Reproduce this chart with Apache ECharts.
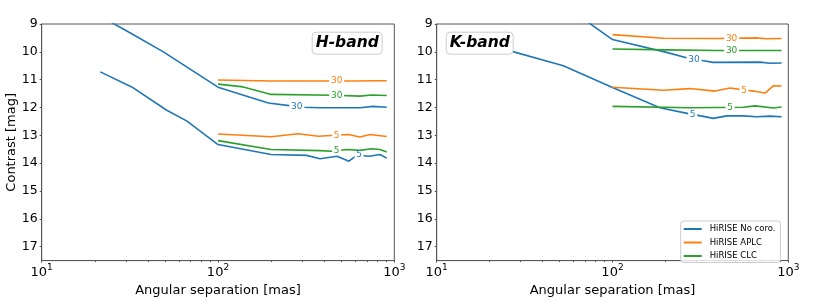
<!DOCTYPE html>
<html>
<head>
<meta charset="utf-8">
<script src="https://cdn.jsdelivr.net/npm/echarts@6/dist/echarts.min.js"></script>
<style>
html,body{margin:0;padding:0;background:#fff;}
#chart{width:830px;height:302px;}
</style>
</head>
<body>
<div id="chart"></div>
<script>
// ---------- data ----------
const seriesNames = ['HiRISE No coro.', 'HiRISE APLC', 'HiRISE CLC'];
const panelTitles = ['H-band', 'K-band'];
const yTicks = [9, 10, 11, 12, 13, 14, 15, 16, 17];
const xTickExps = [1, 2, 3];
const xMinorTicks = [20, 30, 40, 50, 60, 70, 80, 90, 200, 300, 400, 500, 600, 700, 800, 900];

// H-band
const hNoCoro30X = [21.5, 32.4, 49, 100, 193, 267, 305, 379, 639, 757, 906];
const hNoCoro30Y = [8.72, 9.35, 10.0, 11.27, 11.84, 11.95, 11.99, 12.01, 12.01, 11.96, 11.99];
const hNoCoro5X  = [21.5, 32.4, 51.2, 66.4, 100, 200, 318, 379, 473, 553, 612, 722, 829, 906];
const hNoCoro5Y  = [10.72, 11.26, 12.10, 12.48, 13.33, 13.69, 13.72, 13.84, 13.75, 13.93, 13.72, 13.75, 13.69, 13.82];
const hAPLC30X = [100, 200, 400, 600, 800, 906];
const hAPLC30Y = [11.01, 11.05, 11.05, 11.05, 11.04, 11.04];
const hCLC30X  = [100, 139, 200, 451, 639, 744, 906];
const hCLC30Y  = [11.16, 11.26, 11.53, 11.56, 11.59, 11.55, 11.57];
const hAPLC5X  = [100, 200, 285, 371, 548, 639, 727, 906];
const hAPLC5Y  = [12.95, 13.05, 12.94, 13.03, 12.97, 13.06, 12.97, 13.04];
const hCLC5X   = [100, 200, 379, 442, 537, 639, 744, 829, 906];
const hCLC5Y   = [13.19, 13.51, 13.55, 13.57, 13.51, 13.54, 13.48, 13.51, 13.60];

// K-band
const kNoCoro30X = [27.5, 55, 100, 203, 270, 323, 374, 690, 787, 916];
const kNoCoro30Y = [7.2, 8.4, 9.56, 10.02, 10.23, 10.31, 10.38, 10.37, 10.41, 10.40];
const kNoCoro5X  = [25, 52.5, 100, 186, 270, 323, 374, 447, 554, 661, 787, 916];
const kNoCoro5Y  = [9.93, 10.50, 11.28, 12.01, 12.22, 12.31, 12.39, 12.30, 12.30, 12.33, 12.31, 12.33];
const kAPLC30X = [100, 195, 391, 661, 753, 916];
const kAPLC30Y = [9.38, 9.51, 9.52, 9.50, 9.53, 9.52];
const kCLC30X  = [100, 203, 391, 916];
const kCLC30Y  = [9.90, 9.93, 9.95, 9.95];
const kAPLC5X  = [100, 195, 276, 383, 466, 632, 737, 822, 916];
const kAPLC5Y  = [11.27, 11.38, 11.32, 11.41, 11.30, 11.41, 11.48, 11.22, 11.23];
const kCLC5X   = [100, 276, 391, 554, 647, 822, 916];
const kCLC5Y   = [11.96, 12.01, 12.00, 11.99, 11.94, 12.02, 11.98];

// contour-style inline labels: [x, y, text]
const hLabels = {
  noCoro30: [280, 11.96, '30'], noCoro5: [631, 13.70, '5'],
  aplc30: [471, 11.05, '30'], aplc5: [471, 13.00, '5'],
  clc30: [471, 11.57, '30'], clc5: [471, 13.55, '5']
};
const kLabels = {
  noCoro30: [291, 10.27, '30'], noCoro5: [286, 12.24, '5'],
  aplc30: [476, 9.52, '30'], aplc5: [560, 11.38, '5'],
  clc30: [476, 9.95, '30'], clc5: [466, 12.00, '5']
};

// ---------- chart ----------
const colors = ['#1f77b4', '#ff7f0e', '#2ca02c'];
const FONT = 'DejaVu Sans';
const AXIS_COLOR = '#555';

function pairs(xs, ys) { return xs.map((x, i) => [x, ys[i]]); }

function mkSeries(nameIdx, xs, ys, lab, xi, yi) {
  const c = colors[nameIdx];
  const txt = lab[2];
  return {
    type: 'line', name: seriesNames[nameIdx],
    xAxisIndex: xi, yAxisIndex: yi,
    data: pairs(xs, ys),
    showSymbol: false, symbol: 'none',
    lineStyle: { color: c, width: 1.6 },
    itemStyle: { color: c },
    clip: true, animation: false,
    markPoint: {
      z: 10, silent: true, animation: false,
      symbol: 'rect',
      symbolSize: [txt.length === 2 ? 15 : 9, 6],
      itemStyle: { color: '#fff' },
      label: { show: true, position: 'inside', formatter: txt, color: c,
               fontSize: 9, fontFamily: FONT },
      data: [{ coord: [lab[0], lab[1]] }]
    }
  };
}

const grids = [
  { left: 41.7, top: 24, width: 352.6, height: 243.7 },
  { left: 436.7, top: 24, width: 351.6, height: 243.7 }
].map(g => Object.assign(g, { show: true, borderColor: AXIS_COLOR, borderWidth: 1, containLabel: false }));

function mainX(gi) {
  return {
    type: 'log', logBase: 10, gridIndex: gi, min: 10, max: 1000, position: 'bottom',
    axisLine: { show: true, lineStyle: { color: AXIS_COLOR, width: 1 } },
    axisTick: { show: true, length: 2, lineStyle: { color: AXIS_COLOR } },
    splitLine: { show: false },
    minorTick: { show: false },
    axisLabel: {
      margin: 2.5, color: '#000', fontFamily: FONT,
      formatter: v => {
        const e = xTickExps.find(k => Math.abs(Math.pow(10, k) - v) < 1e-6);
        return '{b|10}{s|' + e + '}';
      },
      rich: {
        b: { fontSize: 13, fontFamily: FONT, color: '#000', verticalAlign: 'bottom', lineHeight: 16 },
        s: { fontSize: 9, fontFamily: FONT, color: '#000', verticalAlign: 'top', lineHeight: 11 }
      }
    },
    name: 'Angular separation [mas]', nameLocation: 'middle', nameGap: 21,
    nameTextStyle: { fontSize: 13, fontFamily: FONT, color: '#000' }
  };
}
function minorX(gi) {
  return {
    type: 'value', gridIndex: gi, min: 1, max: 3, position: 'bottom',
    axisLine: { show: false }, axisLabel: { show: false }, splitLine: { show: false },
    axisTick: { show: true, length: 1.5, lineStyle: { color: AXIS_COLOR },
                customValues: xMinorTicks.map(v => Math.log10(v)) }
  };
}
function mainY(gi, withName) {
  const o = {
    type: 'value', gridIndex: gi, inverse: true, min: 9, max: 17.5, interval: 1,
    axisLine: { show: true, lineStyle: { color: AXIS_COLOR, width: 1 } },
    axisTick: { show: true, length: 2, lineStyle: { color: AXIS_COLOR } },
    splitLine: { show: false },
    axisLabel: { margin: 4, fontSize: 12.5, fontFamily: FONT, color: '#000', showMaxLabel: false,
                 formatter: v => (yTicks.indexOf(v) >= 0 ? String(v) : '') }
  };
  if (withName) {
    Object.assign(o, { name: 'Contrast [mag]', nameLocation: 'middle', nameGap: 22,
      nameTextStyle: { fontSize: 13, fontFamily: FONT, color: '#000' } });
  }
  return o;
}

const series = [
  mkSeries(0, hNoCoro30X, hNoCoro30Y, hLabels.noCoro30, 0, 0),
  mkSeries(0, hNoCoro5X, hNoCoro5Y, hLabels.noCoro5, 0, 0),
  mkSeries(1, hAPLC30X, hAPLC30Y, hLabels.aplc30, 0, 0),
  mkSeries(1, hAPLC5X, hAPLC5Y, hLabels.aplc5, 0, 0),
  mkSeries(2, hCLC30X, hCLC30Y, hLabels.clc30, 0, 0),
  mkSeries(2, hCLC5X, hCLC5Y, hLabels.clc5, 0, 0),
  mkSeries(0, kNoCoro30X, kNoCoro30Y, kLabels.noCoro30, 2, 1),
  mkSeries(0, kNoCoro5X, kNoCoro5Y, kLabels.noCoro5, 2, 1),
  mkSeries(1, kAPLC30X, kAPLC30Y, kLabels.aplc30, 2, 1),
  mkSeries(1, kAPLC5X, kAPLC5Y, kLabels.aplc5, 2, 1),
  mkSeries(2, kCLC30X, kCLC30Y, kLabels.clc30, 2, 1),
  mkSeries(2, kCLC5X, kCLC5Y, kLabels.clc5, 2, 1)
];

function titleBox(text, left) {
  return {
    text: text, left: left, top: 31.7, z: 20,
    backgroundColor: '#fff', borderColor: '#ccc', borderWidth: 1, borderRadius: 4,
    padding: [2, 4],
    textStyle: { fontSize: 15.5, fontWeight: 'bold', fontStyle: 'italic', fontFamily: FONT,
                 color: '#000', lineHeight: 19 }
  };
}

const option = {
  animation: false,
  backgroundColor: '#fff',
  title: [titleBox(panelTitles[0], 311.7), titleBox(panelTitles[1], 445.7)],
  grid: grids,
  xAxis: [mainX(0), minorX(0), mainX(1), minorX(1)],
  yAxis: [mainY(0, true), mainY(1, false)],
  legend: {
    data: seriesNames,
    orient: 'vertical', left: 680.7, top: 221,
    icon: 'rect', itemWidth: 18, itemHeight: 2, itemGap: 2.5,
    padding: [2.5, 5, 1, 3],
    backgroundColor: 'rgba(255,255,255,0.8)', borderColor: '#ccc', borderWidth: 1, borderRadius: 3,
    textStyle: { fontSize: 8.5, fontFamily: FONT, color: '#000', lineHeight: 11, padding: [0, 0, 0, 3] },
    selectedMode: false
  },
  series: series
};

const chart = echarts.init(document.getElementById('chart'), null, { renderer: 'canvas' });
chart.setOption(option);
</script>
</body>
</html>
